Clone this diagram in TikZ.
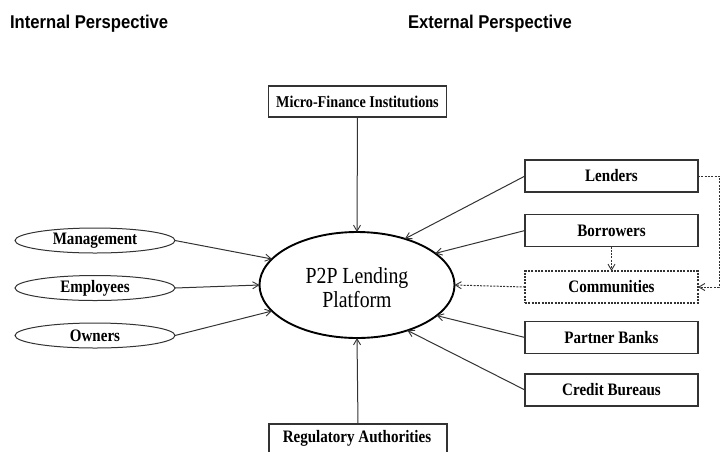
\documentclass[tikz,border=0pt]{standalone}
\usepackage{fontspec}
\setmainfont{Liberation Serif}
\newfontfamily\headfont[FakeStretch=0.9]{Liberation Sans}
\newfontfamily\boxfont[FakeStretch=0.86]{Liberation Serif}
\usetikzlibrary{arrows.meta,shapes.geometric}

\begin{document}
\begin{tikzpicture}[x=1pt,y=-1pt,
  every node/.style={inner sep=0pt,outer sep=0pt},
  tip/.style={-{Straight Barb[length=6pt,width=7pt,line width=0.9pt]}},
  link/.style={tip,draw=black!80,line width=1pt},
  dlink/.style={tip,draw=black!80,line width=1pt,dash pattern=on 2pt off 1.3pt},
  actor/.style={draw=black!80,line width=1.1pt,minimum width=173pt,minimum height=32pt,
    font=\boxfont\fontsize{17.5}{19}\selectfont\bfseries},
  inner/.style={ellipse,draw=black!80,line width=1pt,minimum width=160pt,minimum height=25pt,
    font=\boxfont\fontsize{17.5}{19}\selectfont\bfseries},
  head/.style={font=\headfont\fontsize{18.5}{20}\selectfont\bfseries,anchor=west}
]
\useasboundingbox (0,0) rectangle (720,451);
\clip (0,0) rectangle (720,451);

% column headings
\node[head] (hin) at (10,24) {Internal Perspective};
\node[head] (hex) at (408,24) {External Perspective};

% the platform in the middle
\node[ellipse,draw=black,line width=1.9pt,minimum width=195pt,minimum height=106pt] (p2p) at (357,285) {};
\node[align=center,font=\boxfont\fontsize{23}{24}\selectfont] (p2pt) at (357,288) {P2P Lending\\Platform};

% top and bottom stakeholders
\node[actor,minimum width=178pt,minimum height=31pt,font=\boxfont\fontsize{16.5}{18}\selectfont\bfseries]
  (mfi) at (357.5,101.5) {Micro-Finance Institutions};
\node[actor,minimum width=178pt,minimum height=32pt] (reg) at (358,440) {};
\node[font=\boxfont\fontsize{17.5}{19}\selectfont\bfseries] (regt) at (357,438) {Regulatory Authorities};

% internal stakeholders
\node[inner] (man) at (95,240.5) {Management};
\node[inner] (emp) at (95,288) {Employees};
\node[inner] (own) at (95,335.5) {Owners};

% external stakeholders
\node[actor] (len) at (611.5,176) {Lenders};
\node[actor] (bor) at (611.5,230.5) {Borrowers};
\node[actor,dash pattern=on 2pt off 1.3pt] (com) at (611.5,287) {Communities};
\node[actor] (pb) at (611.5,337.5) {Partner Banks};
\node[actor] (cb) at (611.5,390) {Credit Bureaus};

% corners of the community feedback line
\coordinate (ctop) at (719,176);
\coordinate (cbot) at (719,287);

% links into the platform
\draw[link] (mfi.south) -- (p2p.north);
\draw[link] (reg.north) -- (p2p.south);
\draw[link] (man.east) -- (p2p.163);
\draw[link] (emp.east) -- (p2p.west);
\draw[link] (own.east) -- (p2p.197);
\draw[link] (len.west) -- (p2p.44);
\draw[link] (bor.west) -- (p2p.22);
\draw[dlink] (com.west) -- (p2p.east);
\draw[link] (pb.west) -- (p2p.-21);
\draw[link] (cb.west) -- (p2p.-42);

% links between external groups
\draw[dlink] (bor.south) -- (com.north);
\draw[dlink] (len.east) -- (ctop) -- (cbot) -- (com.east);
\end{tikzpicture}
\end{document}
